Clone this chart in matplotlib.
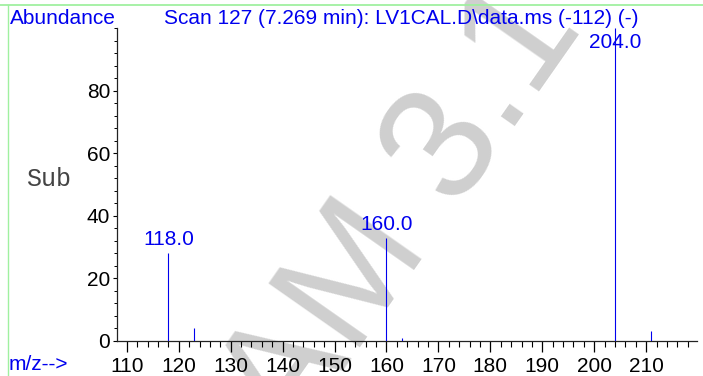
import matplotlib
matplotlib.use("Agg")
import matplotlib.pyplot as plt
from matplotlib.lines import Line2D
from matplotlib.ticker import MultipleLocator

# spectrum data (m/z, relative abundance)
mz = [118, 123, 160, 163, 204, 211]
abundance = [28.1, 4.1, 32.8, 1.0, 100.0, 3.1]
labeled_mz = [118, 160, 204]

title = "Scan 127 (7.269 min): LV1CAL.D\\data.ms (-112) (-)"
watermark = "AM 3.1"
blue = "#0000ee"
sans = ["Liberation Sans", "DejaVu Sans"]
fs = 15

fig = plt.figure(figsize=(7.03, 3.76), dpi=100)

# watermark behind everything
fig.text(0.574, 0.435, watermark, fontsize=116, family=sans, color="#cfcfcf",
         rotation=55, ha="center", va="center", zorder=-1)

ax = fig.add_axes([0.1664, 0.0939, 0.8251, 0.8306])
ax.patch.set_alpha(0)

ax.vlines(mz, 0, abundance, color=blue, lw=0.8, zorder=3)
for m, a in zip(mz, abundance):
    if m in labeled_mz:
        y = min(a + 1.3, 92.5)
        ax.text(m, y, f"{m:.1f}", color=blue, fontsize=fs, family=sans,
                ha="center", va="bottom", zorder=4)

ax.set_xlim(108.1, 219.8)
ax.set_ylim(0, 100)
ax.spines["top"].set_visible(False)
ax.spines["right"].set_visible(False)
for s in ("left", "bottom"):
    ax.spines[s].set_color("#222222")
    ax.spines[s].set_linewidth(0.9)

ax.xaxis.set_minor_locator(MultipleLocator(2))
ax.yaxis.set_minor_locator(MultipleLocator(4))
ax.set_xticks(range(110, 220, 10))
ax.set_yticks([0, 20, 40, 60, 80])
ax.tick_params(axis="x", which="major", length=8, width=0.9, pad=4, labelsize=fs)
ax.tick_params(axis="x", which="minor", length=4, width=0.8)
ax.tick_params(axis="y", which="major", length=3, width=0.8, pad=2, labelsize=fs)
ax.tick_params(axis="y", which="minor", length=2, width=0.7)
for lab in ax.get_xticklabels() + ax.get_yticklabels():
    lab.set_family(sans)

# header / footer texts
fig.text(10 / 703, 1 - 18 / 376, "Abundance", color=blue, fontsize=fs,
         family=sans, ha="left", va="center")
fig.text(164 / 703, 1 - 18 / 376, title, color=blue, fontsize=fs,
         family=sans, ha="left", va="center")
fig.text(9 / 703, 1 - 365 / 376, "m/z-->", color=blue, fontsize=fs,
         family=sans, ha="left", va="center")
fig.text(26 / 703, 1 - 179 / 376, "Sub", color="#444444", fontsize=18,
         family=["Liberation Mono", "DejaVu Sans Mono"], ha="left", va="center")

# green frame lines
fig.add_artist(Line2D([0, 1], [1 - 4.5 / 376] * 2, transform=fig.transFigure,
                      color="#a0f0a0", lw=1.3))
fig.add_artist(Line2D([8.3 / 703] * 2, [0, 1 - 4.5 / 376], transform=fig.transFigure,
                      color="#a0f0a0", lw=1.0))

fig.savefig("out.png", dpi=100)
